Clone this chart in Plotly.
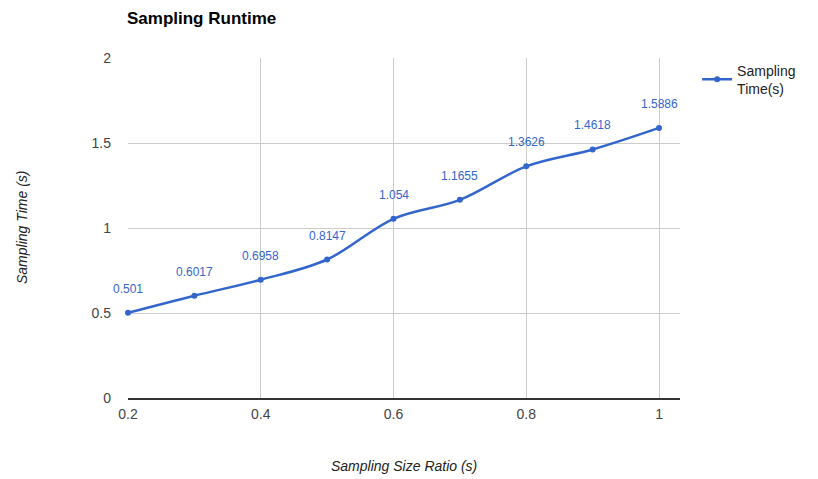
import plotly.graph_objects as go

ratios = [0.2, 0.3, 0.4, 0.5, 0.6, 0.7, 0.8, 0.9, 1.0]
times = [0.501, 0.6017, 0.6958, 0.8147, 1.054, 1.1655, 1.3626, 1.4618, 1.5886]
labels = ["0.501", "0.6017", "0.6958", "0.8147", "1.054", "1.1655", "1.3626", "1.4618", "1.5886"]
xticks = [0.2, 0.4, 0.6, 0.8, 1.0]
xticklabels = ["0.2", "0.4", "0.6", "0.8", "1"]
yticks = [0, 0.5, 1, 1.5, 2]
yticklabels = ["0", "0.5", "1", "1.5", "2"]

blue = "#3366cc"
fig = go.Figure()
fig.add_trace(go.Scatter(
    x=ratios, y=times, mode="lines+markers",
    line=dict(color=blue, width=2.5, shape="spline", smoothing=1.0),
    marker=dict(color=blue, size=6),
    name="Sampling<br>Time(s)", cliponaxis=False,
))
for xv, yv, lab in zip(ratios, times, labels):
    fig.add_annotation(x=xv, y=yv, text=lab, showarrow=False, yshift=24,
                       font=dict(family="Arial, Liberation Sans", size=12, color=blue))

# axis titles
fig.add_annotation(x=0.5, y=-68/340, xref="paper", yref="paper", showarrow=False,
                   text="<i>Sampling Size Ratio (s)</i>", xanchor="center", yanchor="middle",
                   font=dict(size=14, color="#222222"))
fig.add_annotation(x=-106/552, y=0.5, xref="paper", yref="paper", showarrow=False,
                   text="<i>Sampling Time (s)</i>", textangle=-90, xanchor="center", yanchor="middle",
                   font=dict(size=14, color="#222222"))

fig.update_layout(
    width=818, height=479,
    margin=dict(l=128, r=138, t=58, b=81),
    plot_bgcolor="white", paper_bgcolor="white",
    font=dict(family="Arial, Liberation Sans", color="#222222", size=13),
    title=dict(text="<b>Sampling Runtime</b>", x=127/818, xanchor="left",
               y=1 - 18/479, yanchor="middle",
               font=dict(size=17, color="#000000")),
    showlegend=True,
    legend=dict(x=1.031, xref="paper", y=1.01, yref="paper",
                xanchor="left", yanchor="top", bgcolor="rgba(0,0,0,0)",
                font=dict(size=14, color="#222222"), itemwidth=30,
                tracegroupgap=0),
)
fig.update_xaxes(
    range=[0.2, 1.0316], tickvals=xticks, ticktext=xticklabels,
    showgrid=True, gridcolor="#cccccc", gridwidth=1, automargin=False,
    zeroline=False, showline=True, linecolor="#333333", linewidth=1.5,
    ticks="", ticklabelstandoff=2, tickfont=dict(size=14, color="#444444"),
)
fig.update_yaxes(
    range=[0, 2], tickvals=yticks, ticktext=yticklabels,
    showgrid=True, gridcolor="#cccccc", gridwidth=1, automargin=False,
    zeroline=False, showline=False, ticks="", ticklabelstandoff=16,
    tickfont=dict(size=14, color="#444444"),
)
fig.write_html("out.html")
